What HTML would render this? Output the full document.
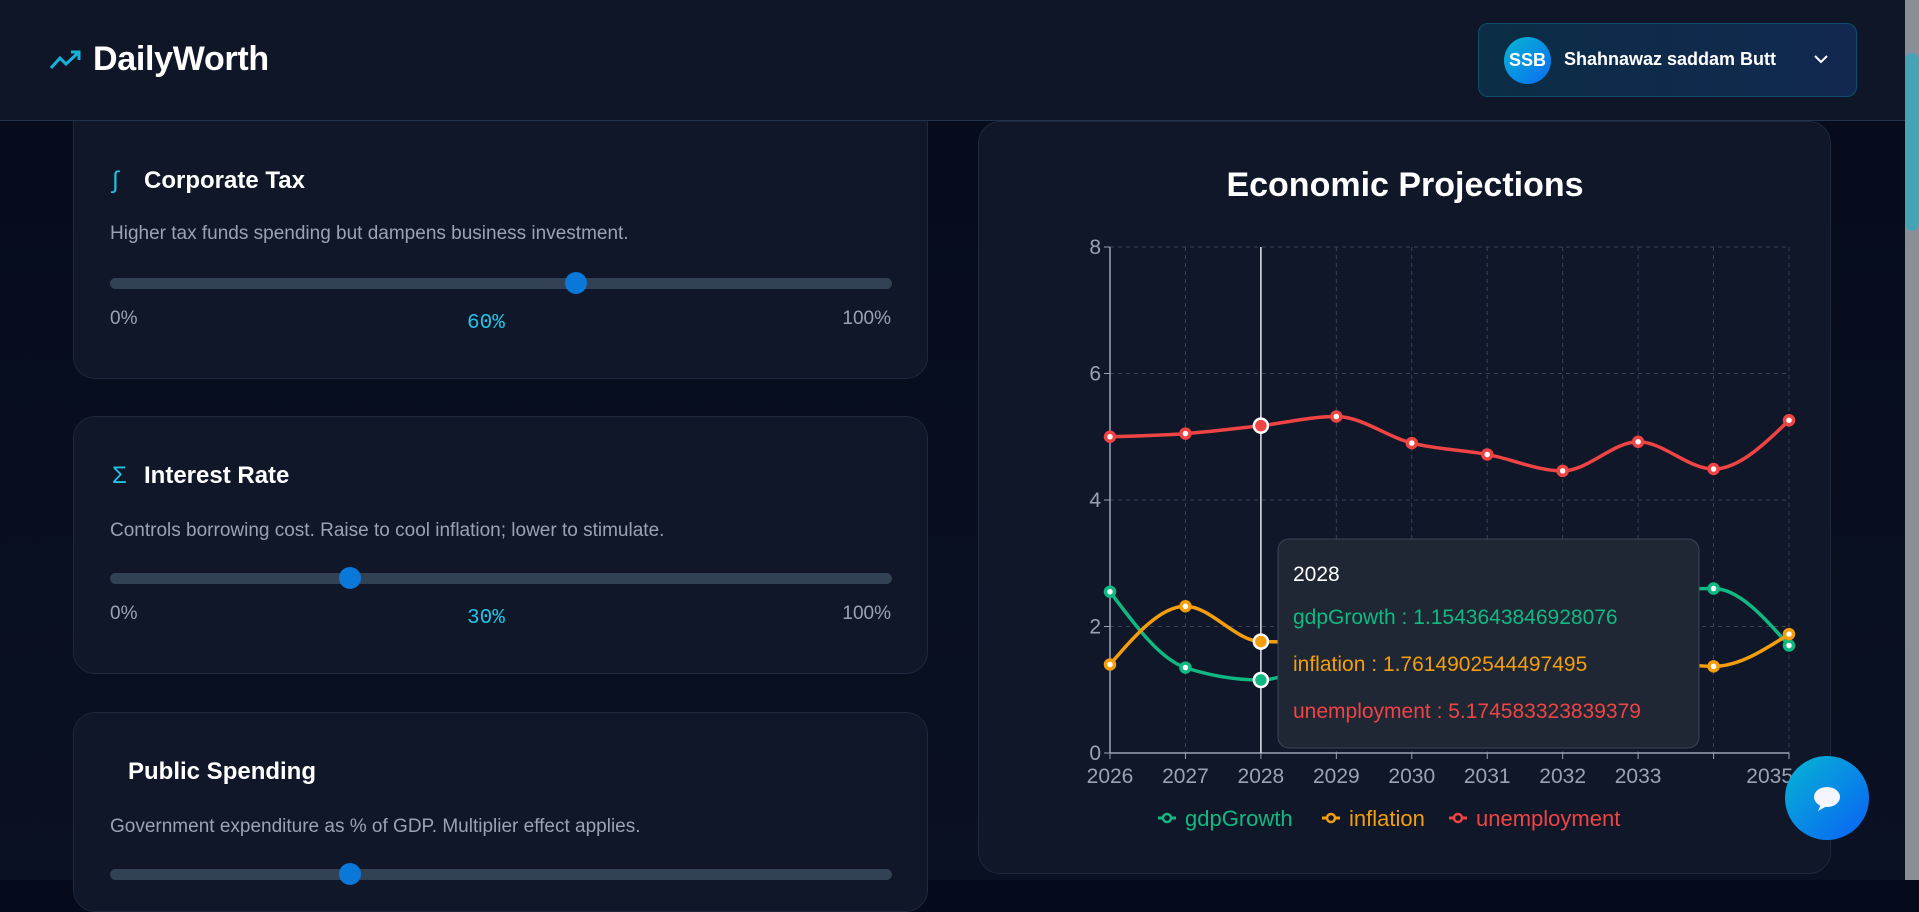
<!DOCTYPE html>
<html><head><meta charset="utf-8">
<style>
*{box-sizing:border-box;margin:0;padding:0}
body{width:1919px;height:880px;overflow:hidden;background:linear-gradient(180deg,#050b1a,#0a1122);font-family:"Liberation Sans",sans-serif;position:relative;color:#fff}
.header{position:absolute;left:0;top:0;width:1905px;height:121px;background:#0f1628;border-bottom:1px solid #23344a;z-index:2}
.logo{position:absolute;left:49px;top:40px;display:flex;align-items:center;gap:10px}
.logo span{font-weight:bold;font-size:34px;letter-spacing:-0.3px}
.user{position:absolute;left:1478px;top:23px;width:379px;height:74px;border:1px solid #0f4f6e;border-radius:10px;background:linear-gradient(90deg,#0b2d45,#122850)}
.avatar{position:absolute;left:25px;top:13px;width:47px;height:47px;border-radius:50%;background:linear-gradient(135deg,#06b6d4,#0a6cf0);font-weight:bold;font-size:18px;text-align:center;line-height:47px}
.uname{position:absolute;left:85px;top:25px;font-weight:bold;font-size:18px}
.chev{position:absolute;left:334px;top:27px}
.card{position:absolute;left:73px;width:855px;background:#0f1729;border:1px solid #1e293b;border-radius:22px}
.ct{position:absolute;left:70px;font-size:24px;font-weight:bold}
.ci{position:absolute;left:38px;color:#22c3e6;font-size:24px}
.cd{position:absolute;left:36px;font-size:19px;color:#9aa3b2}
.track{position:absolute;left:36px;width:782px;height:11px;border-radius:6px;background:#334155}
.thumb{position:absolute;width:22px;height:22px;border-radius:50%;background:#0a78d8;top:-6px}
.lab{position:absolute;font-size:19px;color:#9aa3b2}
.val{position:absolute;font-family:"Liberation Mono",monospace;font-size:21px;color:#22c3e6}
.scroll{position:absolute;left:1905px;top:0;width:14px;height:880px;background:#8a8e97}
.sthumb{position:absolute;left:1905px;top:53px;width:14px;height:178px;border-radius:7px;background:#46a2b5}
.chart-card{position:absolute;left:978px;top:121px;width:853px;height:753px;background:#0f1729;border:1px solid #1e293b;border-radius:22px}
.chat{position:absolute;left:1785px;top:756px;width:84px;height:84px;border-radius:50%;background:linear-gradient(135deg,#06b6d4,#0a60f5);z-index:3}
</style></head><body>
<div class="header">
 <div class="logo">
  <svg width="34" height="24" viewBox="0 0 34 24"><polyline points="2,20 11,10 17,16 30,4" fill="none" stroke="#16b3d9" stroke-width="3"/><polyline points="22,4 30,4 30,12" fill="none" stroke="#16b3d9" stroke-width="3"/></svg>
  <span>DailyWorth</span>
 </div>
 <div class="user">
  <div class="avatar">SSB</div>
  <div class="uname">Shahnawaz saddam Butt</div>
  <svg class="chev" width="16" height="16" viewBox="0 0 16 16"><polyline points="2,5 8,11 14,5" fill="none" stroke="#fff" stroke-width="2"/></svg>
 </div>
</div>

<div class="card" style="top:100px;height:279px">
 <div class="ci" style="top:66px">∫</div>
 <div class="ct" style="top:66px">Corporate Tax</div>
 <div class="cd" style="top:122px">Higher tax funds spending but dampens business investment.</div>
 <div class="track" style="top:177px"><div class="thumb" style="left:455px"></div></div>
 <div class="lab" style="left:36px;top:207px">0%</div>
 <div class="val" style="left:393px;top:211px">60%</div>
 <div class="lab" style="right:36px;top:207px">100%</div>
</div>

<div class="card" style="top:416px;height:258px">
 <div class="ci" style="top:45px">Σ</div>
 <div class="ct" style="top:45px">Interest Rate</div>
 <div class="cd" style="top:103px">Controls borrowing cost. Raise to cool inflation; lower to stimulate.</div>
 <div class="track" style="top:156px"><div class="thumb" style="left:229px"></div></div>
 <div class="lab" style="left:36px;top:186px">0%</div>
 <div class="val" style="left:393px;top:190px">30%</div>
 <div class="lab" style="right:36px;top:186px">100%</div>
</div>

<div class="card" style="top:712px;height:200px">
 <div class="ct" style="top:45px;left:54px">Public Spending</div>
 <div class="cd" style="top:103px">Government expenditure as % of GDP. Multiplier effect applies.</div>
 <div class="track" style="top:156px"><div class="thumb" style="left:229px"></div></div>
</div>

<div class="chart-card"></div>
<svg id="chart" style="position:absolute;left:0;top:0" width="1919" height="880"></svg>

<div class="chat">
 <svg width="84" height="84" viewBox="0 0 84 84"><ellipse cx="42" cy="41" rx="13" ry="10" fill="#f5f5ff"/><path d="M36 48 L33 55 L42 50Z" fill="#f5f5ff"/></svg>
</div>
<div class="scroll"></div>
<div class="sthumb"></div>

<script>
const years = [2026,2027,2028,2029,2030,2031,2032,2033,2034,2035];
const yTicks = [0,2,4,6,8];
const xTickLabels = ["2026","2027","2028","2029","2030","2031","2032","2033","","2035"];
const gdpGrowth = [2.55,1.35,1.154,1.6,2.0,2.3,2.45,2.55,2.6,1.7];
const inflation = [1.4,2.32,1.761,1.75,1.6,1.5,1.42,1.45,1.37,1.88];
const unemployment = [5.0,5.05,5.175,5.32,4.9,4.72,4.46,4.92,4.49,5.26];
const activeIndex = 2;

const NS="http://www.w3.org/2000/svg";
const svg=document.getElementById('chart');
const X0=1110,X1=1789,Y0=753,Y1=247;
const xS=i=>X0+(X1-X0)*i/(years.length-1);
const yS=v=>Y0-(Y0-Y1)*v/8;
function mk(t,a,p){const e=document.createElementNS(NS,t);for(const k in a)e.setAttribute(k,a[k]);(p||svg).appendChild(e);return e;}

const title=mk('text',{x:1405,y:196,'text-anchor':'middle','font-size':'34','font-weight':'bold',fill:'#fff'});
title.textContent='Economic Projections';



yTicks.forEach(v=>{ if(v===0)return;
 const g=mk('line',{x1:X0,x2:X1,y1:yS(v),y2:yS(v),stroke:'#3a4556','stroke-dasharray':'4 4'});
 
 
});
years.forEach((y,i)=>{ if(i===0)return;
 const g=mk('line',{x1:xS(i),x2:xS(i),y1:Y1,y2:Y0,stroke:'#3a4556','stroke-dasharray':'4 4'});
 
 
});
const ya=mk('line',{x1:X0,x2:X0,y1:Y1,y2:Y0,stroke:'#9aa3b2','stroke-width':1.5});


const xa=mk('line',{x1:X0,x2:X1,y1:Y0,y2:Y0,stroke:'#9aa3b2','stroke-width':1.5});


yTicks.forEach(v=>{
 mk('line',{x1:X0-6,x2:X0,y1:yS(v),y2:yS(v),stroke:'#9aa3b2'});
 const t=mk('text',{x:X0-9,y:yS(v)+7,'text-anchor':'end','font-size':'21',fill:'#9aa3b2'});
 t.textContent=v;
 
 
});
years.forEach((y,i)=>{
 mk('line',{x1:xS(i),x2:xS(i),y1:Y0,y2:Y0+6,stroke:'#9aa3b2'});
 const last=i===years.length-1;
 const t=mk('text',{x:last?xS(i)+4:xS(i),y:Y0+30,'text-anchor':last?'end':'middle','font-size':'21',fill:'#9aa3b2'});
 t.textContent=xTickLabels[i];
 
 
});
const cur=mk('line',{x1:xS(activeIndex),x2:xS(activeIndex),y1:Y1,y2:Y0,stroke:'#e5e7eb','stroke-width':1.5});



function monotone(pts){
 const n=pts.length,dx=[],m=[],t=[];
 for(let i=0;i<n-1;i++){dx[i]=pts[i+1][0]-pts[i][0];m[i]=(pts[i+1][1]-pts[i][1])/dx[i];}
 for(let i=1;i<n-1;i++){
  if(m[i-1]*m[i]<=0)t[i]=0;
  else{const h0=dx[i-1],h1=dx[i],p=(m[i-1]*h1+m[i]*h0)/(h0+h1);
   t[i]=(Math.sign(m[i-1])+Math.sign(m[i]))*Math.min(Math.abs(m[i-1]),Math.abs(m[i]),0.5*Math.abs(p))||0;}
 }
 t[0]=n>2?(3*m[0]-t[1])/2:m[0]; if(t[0]*m[0]<=0)t[0]=0;
 t[n-1]=n>2?(3*m[n-2]-t[n-2])/2:m[n-2]; if(t[n-1]*m[n-2]<=0)t[n-1]=0;
 let d='M'+pts[0][0]+','+pts[0][1];
 for(let i=0;i<n-1;i++){const h=dx[i]/3;
  d+='C'+(pts[i][0]+h)+','+(pts[i][1]+h*t[i])+' '+(pts[i+1][0]-h)+','+(pts[i+1][1]-h*t[i+1])+' '+pts[i+1][0]+','+pts[i+1][1];}
 return d;
}
const series=[['gdp-growth',gdpGrowth,'#10b981'],['inflation',inflation,'#f59e0b'],['unemployment',unemployment,'#ef4444']];
series.forEach(([name,vals,col])=>{
 const pts=vals.map((v,i)=>[xS(i),yS(v)]);
 const p=mk('path',{d:monotone(pts),fill:'none',stroke:col,'stroke-width':3.5});
 
 
 vals.forEach((v,i)=>{
  const a=i===activeIndex;
  const c=mk('circle',{cx:xS(i),cy:yS(v),r:a?7:4.5,fill:a?col:'#fff',stroke:a?'#fff':col,'stroke-width':a?2.5:3.5});
  
  
 });
});
const tg=mk('g',{});


mk('rect',{x:1278,y:539,width:421,height:209,rx:11,fill:'#1f2735',stroke:'#384456'},tg);
const tl=mk('text',{x:1293,y:581,'font-size':'21',fill:'#fff'},tg);
tl.textContent=years[activeIndex];


const full=['1.1543643846928076','1.7614902544497495','5.174583323839379'];
[['gdpGrowth',series[0][2]],['inflation',series[1][2]],['unemployment',series[2][2]]].forEach(([n,c],k)=>{
 const t=mk('text',{x:1293,y:624+k*47,'font-size':'21',fill:c},tg);
 t.textContent=n+' : '+full[k];
 
 
});
const legend=[['gdpGrowth','#10b981',1158],['inflation','#f59e0b',1322],['unemployment','#ef4444',1449]];
legend.forEach(([n,c,x])=>{
 const g=mk('g',{});
 
 
 mk('line',{x1:x,x2:x+18,y1:818,y2:818,stroke:c,'stroke-width':3},g);
 mk('circle',{cx:x+9,cy:818,r:4,fill:'#0f1729',stroke:c,'stroke-width':2.5},g);
 const t=mk('text',{x:x+27,y:826,'font-size':'22',fill:c},g);
 t.textContent=n;
});
</script>
</body></html>
